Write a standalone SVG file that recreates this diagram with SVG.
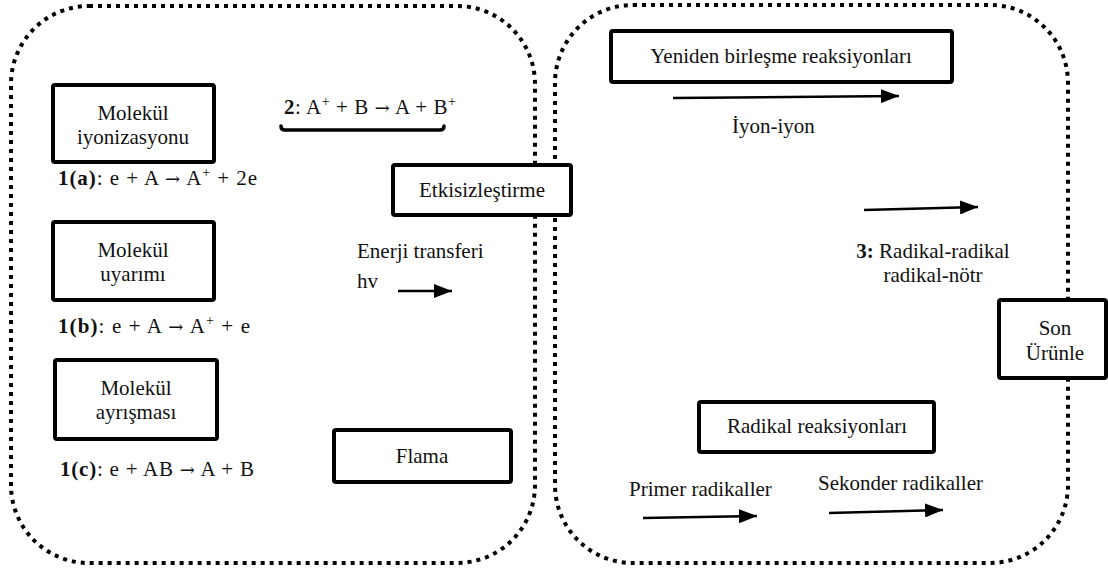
<svg xmlns="http://www.w3.org/2000/svg" width="1108" height="575" viewBox="0 0 1108 575">
<defs>
<marker id="ah" viewBox="0 0 18 14" refX="18" refY="7" markerWidth="18" markerHeight="14" markerUnits="userSpaceOnUse" orient="auto"><path d="M0,0 L18,7 L0,14 z" fill="#000"/></marker>
<style>
.cont{fill:none;stroke:#000;stroke-width:4;stroke-dasharray:4 5}
.box{fill:#fff;stroke:#000;stroke-width:4}
.t{font-family:"Liberation Serif","Times New Roman",serif;font-size:21px;fill:#111}
.c{text-anchor:middle}
.b{font-weight:bold}
.r{font-family:"DejaVu Serif",serif;font-size:18px}
.arr{stroke:#000;stroke-width:2.5;fill:none;marker-end:url(#ah)}
</style>
</defs>
<rect width="1108" height="575" fill="#fff"/>
<g id="containers">
<rect class="cont" x="11" y="6" width="524" height="557" rx="78"/>
<rect class="cont" x="555" y="5" width="513" height="558" rx="78"/>
</g>
<g id="n-iyonizasyon">
<rect class="box" x="53" y="85" width="161" height="77" rx="2"/>
<text class="t c" x="133" y="120">Molekül</text>
<text class="t c" x="133" y="144">iyonizasyonu</text>
</g>
<g id="n-uyarim">
<rect class="box" x="53" y="222" width="161" height="78" rx="2"/>
<text class="t c" x="133" y="257">Molekül</text>
<text class="t c" x="133" y="281">uyarımı</text>
</g>
<g id="n-ayrisma">
<rect class="box" x="55" y="360" width="162" height="79" rx="2"/>
<text class="t c" x="136" y="395">Molekül</text>
<text class="t c" x="136" y="419">ayrışması</text>
</g>
<g id="eq">
<text class="t" x="58" y="185" textLength="199" lengthAdjust="spacing"><tspan class="b">1(a)</tspan>: e + A <tspan class="r">→</tspan> A<tspan dy="-8" font-size="14">+</tspan><tspan dy="8"> + 2e</tspan></text>
<text class="t" x="58" y="333" textLength="192" lengthAdjust="spacing"><tspan class="b">1(b)</tspan>: e + A <tspan class="r">→</tspan> A<tspan dy="-8" font-size="14">+</tspan><tspan dy="8"> + e</tspan></text>
<text class="t" x="60" y="476" textLength="194" lengthAdjust="spacing"><tspan class="b">1(c)</tspan>: e + AB <tspan class="r">→</tspan> A + B</text>
<text class="t" x="284" y="114" textLength="172" lengthAdjust="spacing"><tspan class="b">2</tspan>: A<tspan dy="-8" font-size="14">+</tspan><tspan dy="8"> + B </tspan><tspan class="r">→</tspan> A + B<tspan dy="-8" font-size="14">+</tspan></text>
<path d="M281,126 Q281,130 285,130 L440,130 Q444,130 444,126" fill="none" stroke="#000" stroke-width="3.5" stroke-linecap="round"/>
</g>
<g id="n-etkisizlestirme">
<rect class="box" x="393" y="165" width="178" height="50" rx="2"/>
<text class="t c" x="482" y="197">Etkisizleştirme</text>
</g>
<g id="n-flama">
<rect class="box" x="334" y="430" width="177" height="52" rx="2"/>
<text class="t c" x="422" y="463">Flama</text>
</g>
<g id="n-yeniden">
<rect class="box" x="611" y="31" width="341" height="51" rx="2"/>
<text class="t c" x="781" y="63">Yeniden birleşme reaksiyonları</text>
</g>
<g id="n-son">
<rect class="box" x="999" y="300" width="107" height="78" rx="2"/>
<text class="t c" x="1055" y="335">Son</text>
<text class="t c" x="1055" y="360">Ürünle</text>
</g>
<g id="n-radikal">
<rect class="box" x="699" y="402" width="235" height="50" rx="2"/>
<text class="t c" x="817" y="433">Radikal reaksiyonları</text>
</g>
<g id="labels">
<text class="t" x="357" y="258">Enerji transferi</text>
<text class="t" x="357" y="288">hv</text>
<text class="t" x="732" y="133">İyon-iyon</text>
<text class="t c" x="933" y="258"><tspan class="b">3:</tspan> Radikal-radikal</text>
<text class="t c" x="933" y="282">radikal-nötr</text>
<text class="t" x="629" y="496">Primer radikaller</text>
<text class="t" x="818" y="490">Sekonder radikaller</text>
</g>
<g id="connectors">
<line class="arr" x1="398" y1="291" x2="452" y2="291"/>
<line class="arr" x1="673" y1="98" x2="899" y2="96"/>
<line class="arr" x1="864" y1="210" x2="978" y2="207"/>
<line class="arr" x1="643" y1="518" x2="757" y2="516"/>
<line class="arr" x1="829" y1="513" x2="943" y2="510"/>
</g>
</svg>
